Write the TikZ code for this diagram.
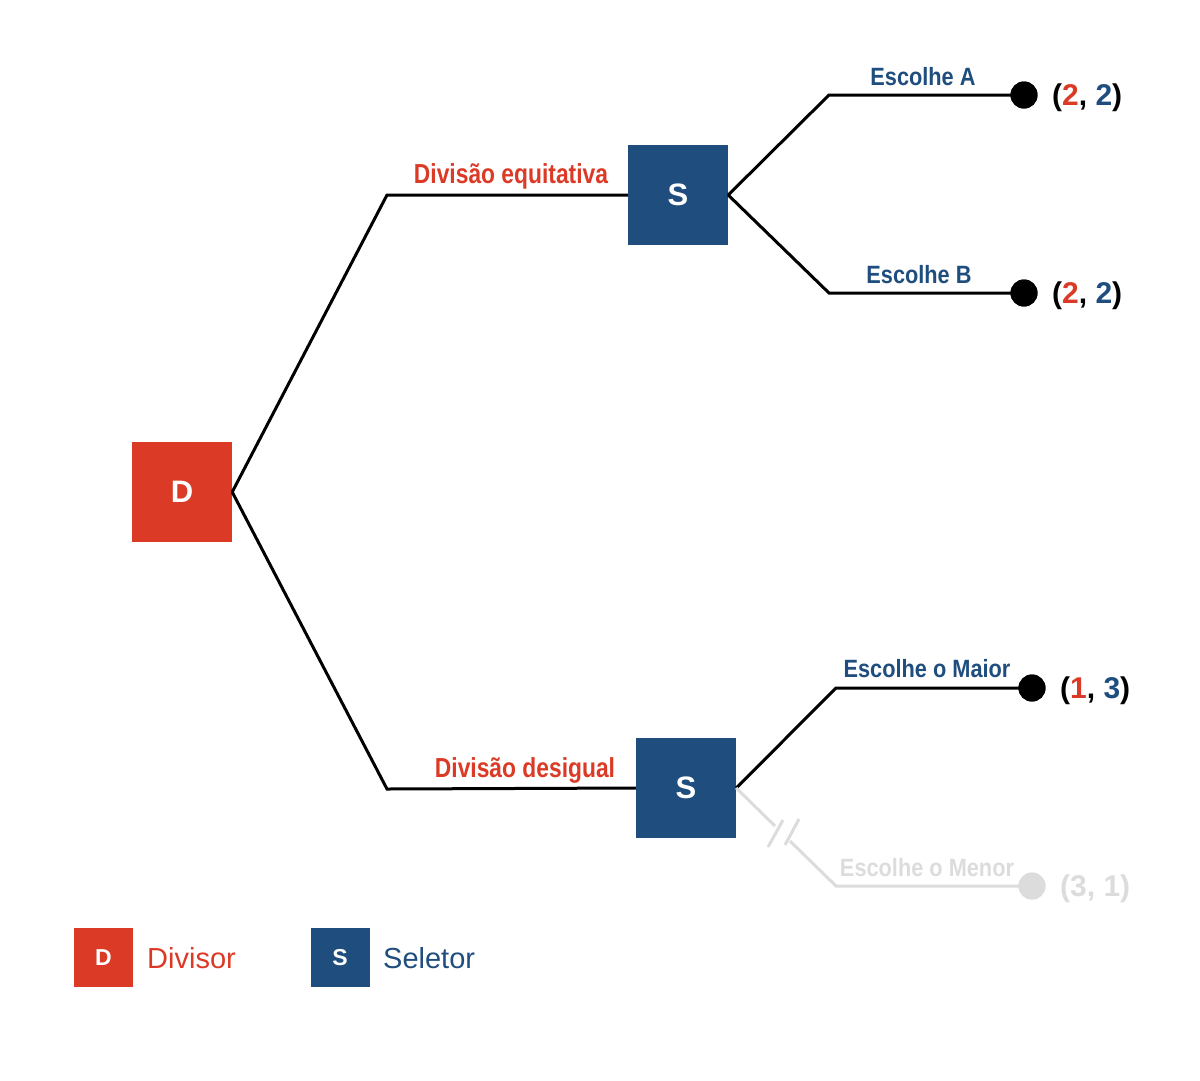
\documentclass[tikz,border=0pt]{standalone}
\usepackage{fontspec}
\setmainfont{Liberation Sans}
\setsansfont{Liberation Sans}
\newfontfamily\condblue[FakeStretch=0.87]{Liberation Sans}
\newfontfamily\condred[FakeStretch=0.83]{Liberation Sans}
\definecolor{dred}{HTML}{DB3B26}
\definecolor{sblue}{HTML}{1F4E7E}
\definecolor{pgray}{HTML}{DCDCDC}
\tikzset{
  player/.style={rectangle, minimum size=100pt, inner sep=0pt, text=white, font=\fontsize{31}{32}\selectfont\bfseries},
  legbox/.style={rectangle, minimum size=59pt, inner sep=0pt, text=white, font=\fontsize{23}{24}\selectfont\bfseries},
  branch/.style={line width=3pt, black, line join=miter},
  pruned/.style={line width=3pt, pgray},
  leaf/.style={circle, fill=black, minimum size=27pt, inner sep=0pt},
  lbl/.style={anchor=base, inner sep=0pt, font=\condblue\fontsize{25}{28}\selectfont\bfseries},
  rlbl/.style={anchor=base, inner sep=0pt, text=dred, font=\condred\fontsize{27.5}{30}\selectfont\bfseries},
  pay/.style={anchor=base west, inner sep=0pt, font=\fontsize{30}{34}\selectfont\bfseries},
  legtxt/.style={anchor=base west, inner sep=0pt, font=\fontsize{29}{32}\selectfont},
}
\begin{document}
\begin{tikzpicture}[x=1pt,y=-1pt]
\useasboundingbox (0,0) rectangle (1200,1080);
% players
\node[player, fill=dred] (D) at (182,492) {D};
\node[player, fill=sblue] (S1) at (678,195) {S};
\node[player, fill=sblue] (S2) at (686,788) {S};
% bends
\coordinate (b1) at (387,195);
\coordinate (b2) at (387,789);
\coordinate (bA) at (829,95);
\coordinate (bB) at (829,293);
\coordinate (bM) at (836,688);
\coordinate (bN) at (836,886);
\coordinate (g1) at (775,826);
\coordinate (g2) at (790,841);
\coordinate (k1a) at (768,847);
\coordinate (k1b) at (783,820);
\coordinate (k2a) at (785,845);
\coordinate (k2b) at (799,819);
% leaves
\node[leaf] (LA) at (1024,95) {};
\node[leaf] (LB) at (1024,293) {};
\node[leaf] (LM) at (1032,688) {};
\node[leaf, fill=pgray] (LN) at (1032,886) {};
% connectors
\draw[branch] (D.east) -- (b1) -- (S1.west);
\draw[branch] (D.east) -- (b2) -- (S2.west);
\draw[branch] (S1.east) -- (bA) -- (LA.center);
\draw[branch] (S1.east) -- (bB) -- (LB.center);
\draw[branch] (S2.east) -- (bM) -- (LM.center);
\draw[pruned] (S2.east) -- (g1);
\draw[pruned] (g2) -- (bN) -- (LN.center);
\draw[pruned] (k1a) -- (k1b);
\draw[pruned] (k2a) -- (k2b);
% redraw leaves on top
\node[leaf] at (LA) {};
\node[leaf] at (LB) {};
\node[leaf] at (LM) {};
\node[leaf, fill=pgray] at (LN) {};
% labels
\node[rlbl] (tEq) at (511,183) {Divisão equitativa};
\node[rlbl] (tDes) at (525,777) {Divisão desigual};
\node[lbl, text=sblue] (tA) at (923,85) {Escolhe A};
\node[lbl, text=sblue] (tB) at (919,283) {Escolhe B};
\node[lbl, text=sblue] (tM) at (927,677) {Escolhe o Maior};
\node[lbl, text=pgray] (tN) at (927,876) {Escolhe o Menor};
% payoffs
\node[pay] (pA) at (1052,105) {(\textcolor{dred}{2}, \textcolor{sblue}{2})};
\node[pay] (pB) at (1052,303) {(\textcolor{dred}{2}, \textcolor{sblue}{2})};
\node[pay] (pM) at (1060,698) {(\textcolor{dred}{1}, \textcolor{sblue}{3})};
\node[pay, text=pgray] (pN) at (1060,896) {(3, 1)};
% legend
\node[legbox, fill=dred] (lD) at (103.5,957.5) {D};
\node[legtxt, text=dred] (lDt) at (147,968) {Divisor};
\node[legbox, fill=sblue] (lS) at (340,957.5) {S};
\node[legtxt, text=sblue] (lSt) at (383,968) {Seletor};
\end{tikzpicture}
\end{document}
